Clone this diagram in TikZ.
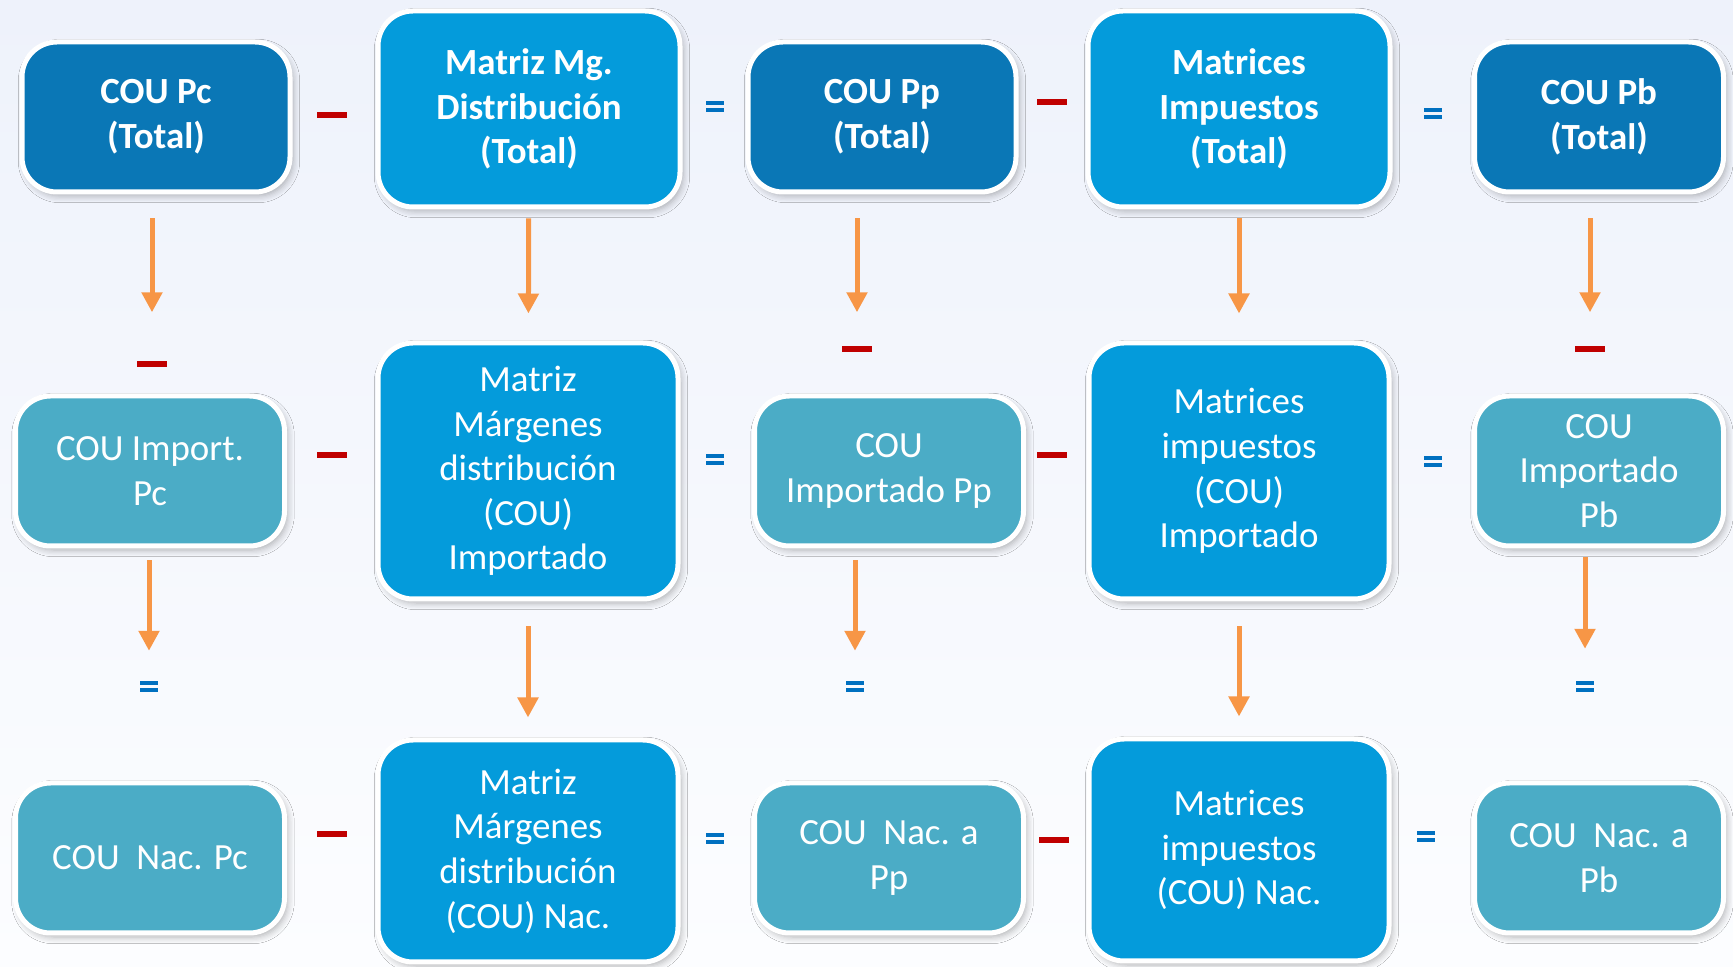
\documentclass[tikz,border=0pt]{standalone}
\usepackage{fontspec}
\setmainfont{Carlito}
\usetikzlibrary{arrows.meta,shadows.blur}
\definecolor{cdark}{HTML}{0A77B6}
\definecolor{cbright}{HTML}{049BDB}
\definecolor{cteal}{HTML}{4BACC6}
\definecolor{corange}{HTML}{F79646}
\definecolor{cred}{HTML}{C00000}
\definecolor{ceq}{HTML}{0070C0}
\definecolor{bgtop}{HTML}{EEF2FB}
\definecolor{bgbot}{HTML}{FCFDFF}

\begin{document}
\begin{tikzpicture}[x=0.1mm,y=-0.1mm,
  box/.style={draw=white,line width=0.5mm,rounded corners=3.5mm,text=white,align=center,inner sep=0pt,
    font=\fontsize{10.5}{12.7}\selectfont,
    blur shadow={shadow xshift=0.3mm,shadow yshift=-0.4mm,shadow blur steps=6,shadow opacity=30}},
  total/.style={box,fill=cdark,font=\fontsize{10.5}{12.7}\selectfont\bfseries,minimum width=26.8mm,minimum height=15mm},
  bigtotal/.style={box,fill=cbright,font=\fontsize{10.5}{12.7}\selectfont\bfseries,minimum width=30.2mm,minimum height=19.6mm},
  part/.style={box,fill=cteal,minimum width=26.9mm,minimum height=15mm},
  bigpart/.style={box,fill=cbright,minimum width=30mm,minimum height=#1},
  subop/.style={fill=cred,minimum width=3mm,minimum height=0.6mm,inner sep=0pt},
  eqop/.style={minimum width=1.8mm,minimum height=1.1mm,inner sep=0pt,fill=ceq,fill opacity=0,
    path picture={\fill[ceq,fill opacity=1] (path picture bounding box.north west) rectangle ([yshift=-0.4mm]path picture bounding box.north east);
      \fill[ceq,fill opacity=1] ([yshift=0.4mm]path picture bounding box.south west) rectangle (path picture bounding box.south east);}},
  flow/.style={draw=corange,line width=0.5mm,-{Triangle[width=2mm,length=2mm]}}]
  \shade[top color=bgtop,bottom color=bgbot] (0,0) rectangle (1733,967);
  \useasboundingbox (0,0) rectangle (1733,967);

  \node[total] (pcT) at (156,117) {COU Pc\\(Total)};
  \node[bigtotal] (mgT) at (529,109) {Matriz Mg.\\Distribución\\(Total)};
  \node[total] (ppT) at (882,117) {COU Pp\\(Total)};
  \node[bigtotal] (impT) at (1239,109) {Matrices\\Impuestos\\(Total)};
  \node[total,minimum width=24.9mm] (pbT) at (1599,117) {COU Pb\\(Total)};

  \node[part] (pcI) at (150,471) {COU Import.\\Pc};
  \node[bigpart=25.6mm] (mgI) at (528,471) {Matriz\\Márgenes\\distribución\\(COU)\\Importado};
  \node[part] (ppI) at (889,471) {COU\\Importado Pp};
  \node[bigpart=25.6mm] (impI) at (1239,471) {Matrices\\impuestos\\(COU)\\Importado};
  \node[part,minimum width=24.9mm] (pbI) at (1599,471) {COU\\Importado\\Pb};

  \node[part] (pcN) at (150,858) {COU\ \ Nac. Pc};
  \node[bigpart=22.2mm] (mgN) at (528,851) {Matriz\\Márgenes\\distribución\\(COU) Nac.};
  \node[part] (ppN) at (889,858) {COU\ \ Nac. a\\Pp};
  \node[bigpart=22.2mm] (impN) at (1239,850) {Matrices\\impuestos\\(COU) Nac.};
  \node[part,minimum width=24.9mm] (pbN) at (1599,858) {COU\ \ Nac. a\\Pb};

  \node[subop] (hT1) at (332,115) {};
  \node[eqop] (hT2) at (715,107) {};
  \node[subop] (hT3) at (1052,102) {};
  \node[eqop] (hT4) at (1433,114) {};
  \node[subop] (hI1) at (332,455) {};
  \node[eqop] (hI2) at (715,460) {};
  \node[subop] (hI3) at (1052,455) {};
  \node[eqop] (hI4) at (1433,462) {};
  \node[subop] (hN1) at (332,834) {};
  \node[eqop] (hN2) at (715,839) {};
  \node[subop] (hN3) at (1054,840) {};
  \node[eqop] (hN4) at (1426,837) {};

  \node[subop] (vI1) at (152,364) {};
  \node[subop] (vI3) at (857,349) {};
  \node[subop] (vI5) at (1590,349) {};
  \node[eqop] (vN1) at (149,687) {};
  \node[eqop] (vN3) at (855,687) {};
  \node[eqop] (vN5) at (1585,687) {};

  \draw[flow,shorten <=2.4mm,shorten >=4.8mm] (pcT.south -| vI1) -- (vI1);
  \draw[flow,shorten <=0.9mm,shorten >=2.7mm] (mgT) -- (mgI);
  \draw[flow,shorten <=2.4mm,shorten >=3.3mm] (ppT.south -| vI3) -- (vI3);
  \draw[flow,shorten <=0.9mm,shorten >=2.7mm] (impT) -- (impI);
  \draw[flow,shorten <=2.4mm,shorten >=3.3mm] (pbT.south -| vI5) -- (vI5);
  \draw[flow,shorten <=1.2mm,shorten >=3mm] (pcI.south -| vN1) -- (vN1);
  \draw[flow,shorten <=2.5mm,shorten >=2mm] (mgI) -- (mgN);
  \draw[flow,shorten <=1.2mm,shorten >=3mm] (ppI.south -| vN3) -- (vN3);
  \draw[flow,shorten <=2.5mm,shorten >=2mm] (impI) -- (impN);
  \draw[flow,shorten <=0.9mm,shorten >=3.2mm] (pbI.south -| vN5) -- (vN5);
\end{tikzpicture}
\end{document}
